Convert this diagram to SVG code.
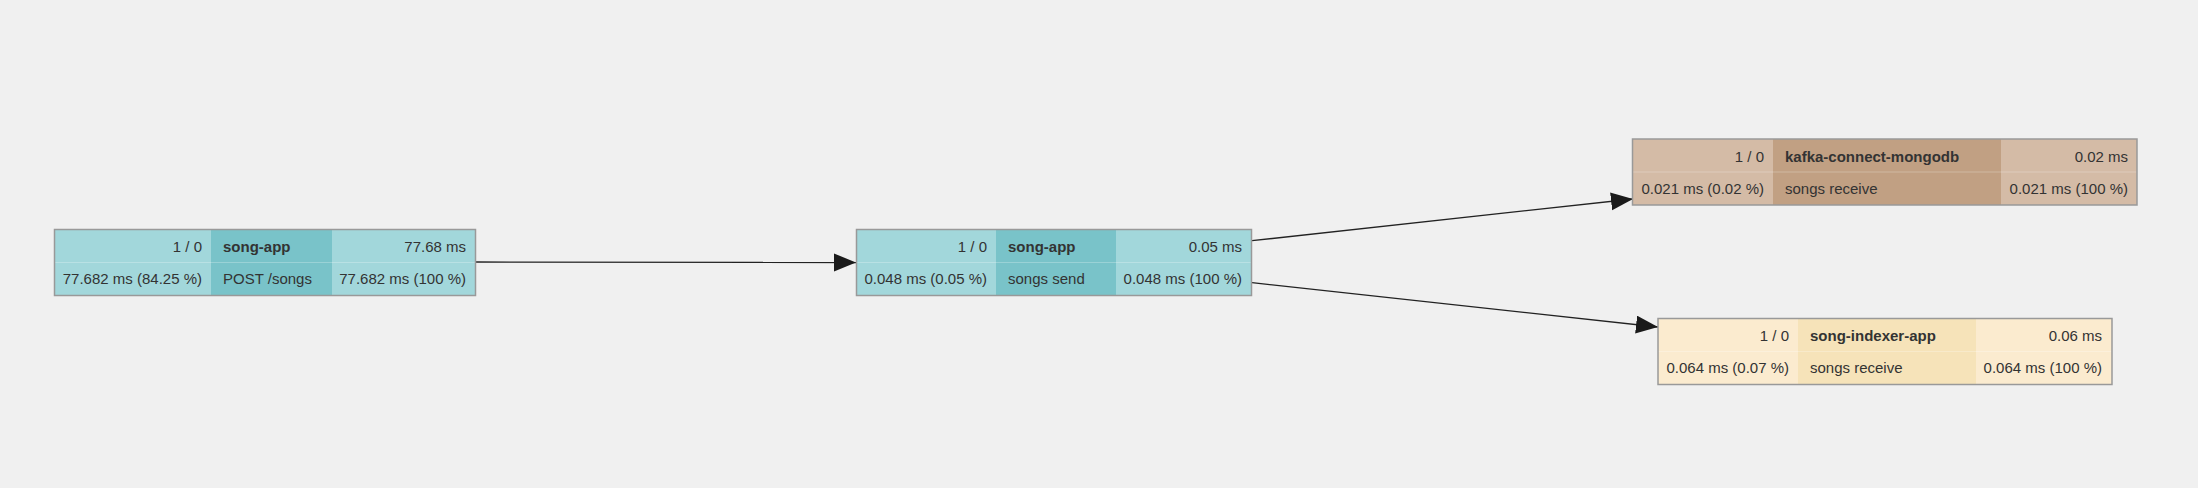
<svg xmlns="http://www.w3.org/2000/svg" width="2198" height="488" viewBox="0 0 2198 488">
<style>
text{font-family:"Liberation Sans",Arial,sans-serif;font-size:15px;fill:#333}
.b{font-weight:bold}
.r{text-anchor:end}
.frame{fill:none;stroke:#999;stroke-width:1.5}
.div{stroke:#ffffff;stroke-opacity:0.25;stroke-width:1}
.t1{fill:#a2d7db}.t2{fill:#79c3c9}
.k1{fill:#d4bba6}.k2{fill:#c1a083}
.y1{fill:#fbebcf}.y2{fill:#f6e3b9}
.edge{fill:none;stroke:#222;stroke-width:1.3}
</style>
<defs>
<marker id="arr" markerUnits="userSpaceOnUse" markerWidth="24" markerHeight="20" refX="22" refY="9" orient="auto">
<path d="M0,0 L22,9 L0,18 Z" fill="#1a1a1a"/>
</marker>
</defs>
<rect width="2198" height="488" fill="#f0f0f0"/>
<g id="connectors">
<path class="edge" d="M476,262 L856,262.5" marker-end="url(#arr)"/>
<path class="edge" d="M1252,240.7 L1633,199" marker-end="url(#arr)"/>
<path class="edge" d="M1252,282.7 L1658,327" marker-end="url(#arr)"/>
</g>
<g id="node1">
<rect class="t1" x="54.5" y="229.5" width="421" height="66"/>
<rect class="t2" x="211" y="229.5" width="121" height="66"/>
<line class="div" x1="54.5" y1="262.5" x2="475.5" y2="262.5"/>
<rect class="frame" x="54.5" y="229.5" width="421" height="66"/>
<text class="r" x="202" y="252">1 / 0</text>
<text class="b" x="223" y="252">song-app</text>
<text class="r" x="466" y="252">77.68 ms</text>
<text class="r" x="202" y="284">77.682 ms (84.25 %)</text>
<text x="223" y="284">POST /songs</text>
<text class="r" x="466" y="284">77.682 ms (100 %)</text>
</g>
<g id="node2">
<rect class="t1" x="856.5" y="229.5" width="395" height="66"/>
<rect class="t2" x="996" y="229.5" width="120" height="66"/>
<line class="div" x1="856.5" y1="262.5" x2="1251.5" y2="262.5"/>
<rect class="frame" x="856.5" y="229.5" width="395" height="66"/>
<text class="r" x="987" y="252">1 / 0</text>
<text class="b" x="1008" y="252">song-app</text>
<text class="r" x="1242" y="252">0.05 ms</text>
<text class="r" x="987" y="284">0.048 ms (0.05 %)</text>
<text x="1008" y="284">songs send</text>
<text class="r" x="1242" y="284">0.048 ms (100 %)</text>
</g>
<g id="node3">
<rect class="k1" x="1632.5" y="139" width="504.5" height="66"/>
<rect class="k2" x="1773" y="139" width="228" height="66"/>
<line class="div" x1="1632.5" y1="172" x2="2137" y2="172"/>
<rect class="frame" x="1632.5" y="139" width="504.5" height="66"/>
<text class="r" x="1764" y="161.5">1 / 0</text>
<text class="b" x="1785" y="161.5">kafka-connect-mongodb</text>
<text class="r" x="2128" y="161.5">0.02 ms</text>
<text class="r" x="1764" y="193.5">0.021 ms (0.02 %)</text>
<text x="1785" y="193.5">songs receive</text>
<text class="r" x="2128" y="193.5">0.021 ms (100 %)</text>
</g>
<g id="node4">
<rect class="y1" x="1658" y="318.5" width="454" height="66"/>
<rect class="y2" x="1798" y="318.5" width="178" height="66"/>
<line class="div" x1="1658" y1="351.5" x2="2112" y2="351.5"/>
<rect class="frame" x="1658" y="318.5" width="454" height="66"/>
<text class="r" x="1789" y="341">1 / 0</text>
<text class="b" x="1810" y="341">song-indexer-app</text>
<text class="r" x="2102" y="341">0.06 ms</text>
<text class="r" x="1789" y="373">0.064 ms (0.07 %)</text>
<text x="1810" y="373">songs receive</text>
<text class="r" x="2102" y="373">0.064 ms (100 %)</text>
</g>
</svg>
